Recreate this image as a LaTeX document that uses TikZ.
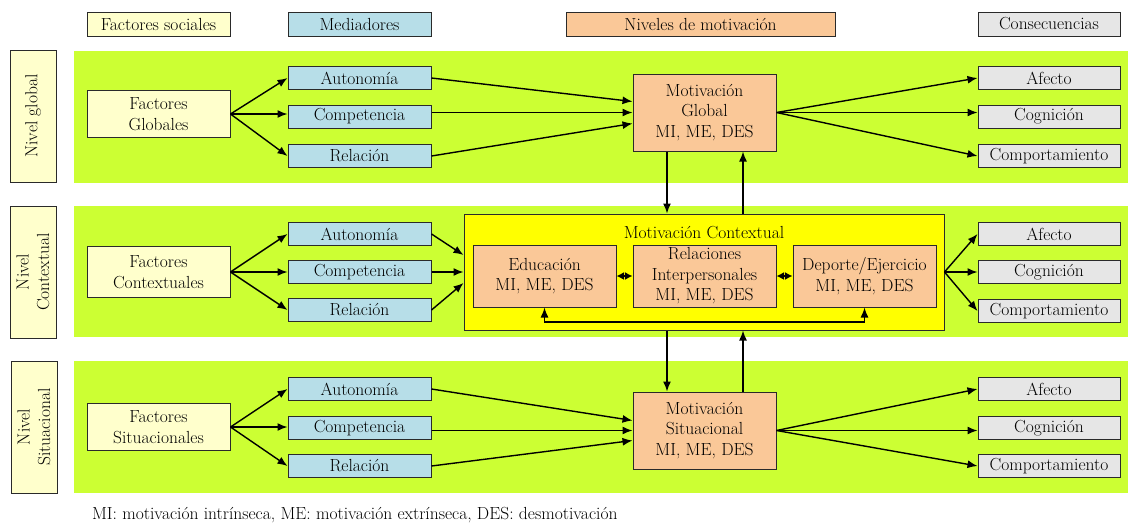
\documentclass[tikz,border=0pt]{standalone}
\usepackage{fontspec}
\usetikzlibrary{arrows.meta}
\definecolor{bandgreen}{HTML}{CCFF33}
\definecolor{factorcol}{HTML}{FFFFCC}
\definecolor{medcol}{HTML}{B7DEE8}
\definecolor{motcol}{HTML}{FAC898}
\definecolor{conscol}{HTML}{E6E6E6}
\definecolor{ctxyellow}{HTML}{FFFF00}
\definecolor{edgecol}{HTML}{2A2A2A}
\begin{document}
\begin{tikzpicture}[x=1pt, y=-1pt, line width=1.4pt,
  font=\fontsize{17.5}{20.5}\selectfont,
  box/.style={draw=edgecol, line width=1pt, inner sep=1pt, align=center},
  head/.style={box, minimum height=24pt},
  nivel/.style={box, fill=factorcol, rotate=90, minimum width=132pt, minimum height=46pt},
  factor/.style={box, fill=factorcol, minimum width=143pt, minimum height=47pt},
  mediador/.style={box, fill=medcol, minimum width=143pt, minimum height=23pt},
  motiv/.style={box, fill=motcol, minimum width=143pt, minimum height=77pt},
  conse/.style={box, fill=conscol, minimum width=142pt, minimum height=23pt},
  arr/.style={-{Latex[length=10pt,width=8pt]}},
  dbl/.style={{Latex[length=7.5pt,width=8pt]}-{Latex[length=7.5pt,width=8pt]}}]
\useasboundingbox (0,0) rectangle (1128,523);

\node[head, fill=factorcol, minimum width=143pt] (hfac) at (158.5,24) {Factores sociales};
\node[head, fill=medcol, minimum width=143pt] (hmed) at (359.5,24) {Mediadores};
\node[head, fill=motcol, minimum width=269pt] (hmot) at (700.5,24) {Niveles de motivación};
\node[head, fill=conscol, minimum width=142pt] (hcon) at (1049,24) {Consecuencias};

\fill[bandgreen] (74,51) rectangle (1128,183);
\fill[bandgreen] (74,206) rectangle (1128,337);
\fill[bandgreen] (74,361) rectangle (1128,493);

\node[nivel] (ng) at (33,116) {Nivel global};
\node[nivel] (nc) at (33,272) {Nivel\\Contextual};
\node[nivel] (ns) at (34,427) {Nivel\\Situacional};

\coordinate (dn) at (667,0);
\coordinate (up) at (743,0);
\coordinate (lp) at (0,322);

% nivel global
\node[factor] (fg) at (158.5,114) {Factores\\Globales};
\node[mediador] (a1) at (359.5,78) {Autonomía};
\node[mediador] (c1) at (359.5,116.5) {Competencia};
\node[mediador] (r1) at (359.5,156) {Relación};
\node[motiv] (mg) at (704.5,112.5) {Motivación\\Global\\MI, ME, DES};
\node[conse] (af1) at (1049,78) {Afecto};
\node[conse] (co1) at (1049,116.5) {Cognición};
\node[conse] (cp1) at (1049,156) {Comportamiento};

\draw[arr] (fg.east) -- (a1.west);
\draw[arr] (fg.east) -- (fg.east -| c1.west);
\draw[arr] (fg.east) -- (r1.west);
\draw[arr] (a1.east) -- ([yshift=11pt]mg.west);
\draw[arr] (c1.east |- mg.west) -- (mg.west);
\draw[arr] (r1.east) -- ([yshift=-11pt]mg.west);
\draw[arr] (mg.east) -- (af1.west);
\draw[arr] (mg.east) -- (mg.east -| co1.west);
\draw[arr] (mg.east) -- (cp1.west);

% nivel contextual
\node[factor, minimum height=51pt] (fc) at (158.5,272) {Factores\\Contextuales};
\node[mediador] (a2) at (359.5,234) {Autonomía};
\node[mediador] (c2) at (359.5,272) {Competencia};
\node[mediador] (r2) at (359.5,310) {Relación};
\node[box, fill=ctxyellow, minimum width=480pt, minimum height=116pt] (mc) at (704,272) {};
\node (mct) at (704,233) {Motivación Contextual};
\node[motiv, minimum height=62pt] (ed) at (544.5,276) {Educación\\MI, ME, DES};
\node[motiv, minimum height=62pt] (ri) at (704.5,276) {Relaciones\\Interpersonales\\MI, ME, DES};
\node[motiv, minimum height=62pt] (dep) at (864.5,276) {Deporte/Ejercicio\\MI, ME, DES};
\node[conse] (af2) at (1049,234) {Afecto};
\node[conse] (co2) at (1049,272) {Cognición};
\node[conse] (cp2) at (1049,311) {Comportamiento};

\draw[arr] (fc.east) -- (a2.west);
\draw[arr] (fc.east) -- (c2.west);
\draw[arr] (fc.east) -- (r2.west);
\draw[arr] (a2.east) -- ([yshift=17pt]mc.west);
\draw[arr] (c2.east) -- (mc.west);
\draw[arr] (r2.east) -- ([yshift=-11pt]mc.west);
\draw[dbl] (ed.east) -- (ri.west);
\draw[dbl] (ri.east) -- (dep.west);
\draw[{Latex[length=10pt,width=8pt]}-{Latex[length=10pt,width=8pt]}] (ed.south) -- (ed.south |- lp) -| (dep.south);
\draw[arr] (mc.east) -- (af2.west);
\draw[arr] (mc.east) -- (co2.west);
\draw[arr] (mc.east) -- (cp2.west);

% nivel situacional
\node[factor] (fs) at (158.5,427) {Factores\\Situacionales};
\node[mediador] (a3) at (359.5,389) {Autonomía};
\node[mediador] (c3) at (359.5,428) {Competencia};
\node[mediador] (r3) at (359.5,466) {Relación};
\node[motiv] (ms) at (704.5,430.5) {Motivación\\Situacional\\MI, ME, DES};
\node[conse] (af3) at (1049,389) {Afecto};
\node[conse] (co3) at (1049,428) {Cognición};
\node[conse] (cp3) at (1049,466) {Comportamiento};

\draw[arr] (fs.east) -- (a3.west);
\draw[arr] (fs.east) -- (fs.east -| c3.west);
\draw[arr] (fs.east) -- (r3.west);
\draw[arr] (a3.east) -- ([yshift=10pt]ms.west);
\draw[arr] (c3.east |- ms.west) -- (ms.west);
\draw[arr] (r3.east) -- ([yshift=-10pt]ms.west);
\draw[arr] (ms.east) -- (af3.west);
\draw[arr] (ms.east) -- (ms.east -| co3.west);
\draw[arr] (ms.east) -- (cp3.west);

% entre niveles
\draw[arr] (mg.south -| dn) -- (mc.north -| dn);
\draw[arr] (mc.north -| up) -- (mg.south -| up);
\draw[arr] (mc.south -| dn) -- (ms.north -| dn);
\draw[arr] (ms.north -| up) -- (mc.south -| up);

\node[anchor=west] (nota) at (88,515) {MI: motivación intrínseca, ME: motivación extrínseca, DES: desmotivación};
\end{tikzpicture}
\end{document}
